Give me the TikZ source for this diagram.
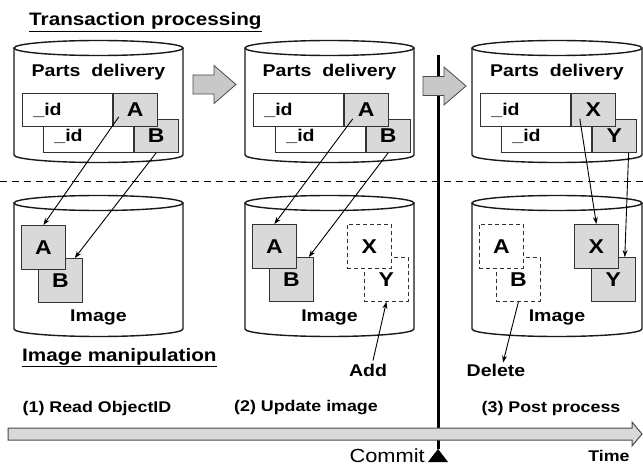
\documentclass[tikz,border=0pt]{standalone}
\usepackage{fontspec}
\setmainfont{Liberation Sans}[FakeStretch=1.15]
\usetikzlibrary{calc,positioning,arrows.meta}

\definecolor{cellgray}{HTML}{D9D9D9}
\definecolor{arrowgray}{HTML}{C8C8C8}
\definecolor{edgegray}{HTML}{4A4A4A}

\newcommand\txtsize[1]{\fontsize{#1}{#1}\selectfont\bfseries}

\begin{document}
\begin{tikzpicture}[x=1pt, y=-1pt,
	drum/.style={draw=black!90, line width=1.4pt, fill=white},
	idbox/.style={draw=black!80, line width=0.8pt, fill=white, anchor=north west,
		minimum height=33pt, text width=68pt, inner xsep=11pt, inner ysep=0pt,
		align=left, font=\txtsize{17}},
	keybox/.style={draw=black!80, line width=0.8pt, fill=cellgray,
		minimum width=44pt, minimum height=33pt, inner sep=0pt, font=\txtsize{20}},
	imgbox/.style={draw=black!80, line width=0.8pt, fill=cellgray, anchor=north west,
		minimum size=44pt, inner sep=0pt, font=\txtsize{20}},
	ghostbox/.style={imgbox, fill=white, dash pattern=on 4pt off 3pt},
	lbl/.style={inner sep=1pt, font=\txtsize{17}},
	stage/.style={inner sep=1pt, font=\txtsize{15.5}},
	link/.style={-{Stealth[length=7pt,width=5pt]}, line width=0.9pt},
	blockarrow/.style={draw=edgegray, line width=0.8pt, fill=arrowgray},
]

% parameters %{{{1

	\def\ry{7.5}

	\useasboundingbox (0,0) rectangle (643,468);

% titles %{{{1

	\node[inner sep=0pt, anchor=base west, font=\txtsize{18}] (ttltx) at (29,26) {Transaction processing};
	\draw[line width=1.6pt] ($(ttltx.south west)+(0,1.5)$) -- ($(ttltx.south east)+(0,1.5)$);

	\node[inner sep=0pt, anchor=base west, font=\txtsize{18}] (ttlim) at (22,361) {Image manipulation};
	\draw[line width=1.6pt] ($(ttlim.south west)+(0,1.5)$) -- ($(ttlim.south east)+(0,1.5)$);

% separator and commit line %{{{1

	\draw[line width=1pt, dash pattern=on 7pt off 5pt] (0,182) -- (643,182);

	\coordinate (ctop) at (438,55);
	\coordinate (capex) at (438,449);
	\draw[line width=3pt] (ctop) -- (capex);
	\fill (capex) -- (448,462) -- (428,462) -- cycle;

% drums %{{{1

	\foreach \c/\xl/\xr in {1/14/183, 2/245/414, 3/472/642} {
		\draw[drum] (\xl,48) -- (\xl,155)
			arc[start angle=180, end angle=0, x radius={(\xr-\xl)/2}, y radius=\ry] -- (\xr,48);
		\draw[drum] ({(\xl+\xr)/2},48) ellipse[x radius={(\xr-\xl)/2}, y radius=\ry];
		\draw[drum] (\xl,203) -- (\xl,329)
			arc[start angle=180, end angle=0, x radius={(\xr-\xl)/2}, y radius=\ry] -- (\xr,203);
		\draw[drum] ({(\xl+\xr)/2},203) ellipse[x radius={(\xr-\xl)/2}, y radius=\ry];
		\node[lbl] (pd\c) at ({(\xl+\xr)/2},72) {Parts\ \ delivery};
		\node[lbl] (im\c) at ({(\xl+\xr)/2},317) {Image};
	}

% document rows %{{{1

	\foreach \c/\xa/\xb/\ka/\kb in {1/22/43/A/B, 2/253/275/A/B, 3/480/501/X/Y} {
		\node[idbox] (idb\c) at (\xb,119) {\_id};
		\node[keybox, right=0pt of idb\c] (kb\c) {\kb};
		\node[idbox] (ida\c) at (\xa,93) {\_id};
		\node[keybox, right=0pt of ida\c] (ka\c) {\ka};
	}

% image boxes %{{{1

	\node[imgbox] (ib1) at (38,258) {B};
	\node[imgbox] (ia1) at (21,225) {A};

	\node[imgbox] (ib2) at (269,257) {B};
	\node[imgbox] (ia2) at (252,224) {A};
	\node[ghostbox] (iy2) at (364,257) {Y};
	\node[ghostbox] (ix2) at (347,224) {X};

	\node[ghostbox] (ib3) at (496,257) {B};
	\node[ghostbox] (ia3) at (479,224) {A};
	\node[imgbox] (iy3) at (591,257) {Y};
	\node[imgbox] (ix3) at (574,224) {X};

% links %{{{1

	\draw[link] ($(ka1.south west)+(6,-10)$) -- (ia1.north);
	\draw[link] (kb1.south) -- ($(ib1.north east)+(-8,0)$);

	\draw[link] ($(ka2.south west)+(9,-8)$) -- (ia2.north);
	\draw[link] (kb2.south) -- ($(ib2.north east)+(-5,0)$);

	\draw[link] ($(ka3.south west)+(9,-8)$) -- (ix3.north);
	\draw[link] ($(kb3.south east)+(-8,0)$) -- ($(iy3.north east)+(-11,0)$);

% add / delete %{{{1

	\node[lbl] (add) at (368,370) {Add};
	\node[lbl] (del) at (496,370) {Delete};

	\draw[link] ($(add.north)+(5,-2)$) -- (iy2.south);
	\draw[link] (ib3.south) -- ($(del.north)+(7,0)$);

% block arrows %{{{1

	\foreach \x/\y in {193/84.5, 423/86} {
		\draw[blockarrow] (\x,\y-9.5) -- (\x+21,\y-9.5) -- (\x+21,\y-19) -- (\x+43,\y)
			-- (\x+21,\y+19) -- (\x+21,\y+9.5) -- (\x,\y+9.5) -- cycle;
	}

% time axis %{{{1

	\draw[draw=edgegray, line width=1pt, fill=cellgray]
		(8,428) -- (632,428) -- (632,422) -- (642,434) -- (632,446) -- (632,440) -- (8,440) -- cycle;

	\node[stage] (st1) at (97,408) {(1) Read ObjectID};
	\node[stage] (st2) at (306,408) {(2) Update image};
	\node[stage] (st3) at (551,408) {(3) Post process};

	\node[inner sep=1pt, anchor=east, font=\fontsize{19}{19}\selectfont] (cmt) at (426,456) {Commit};
	\node[stage] (time) at (609,456) {Time};

% closing %{{{1

\end{tikzpicture}
\end{document}
